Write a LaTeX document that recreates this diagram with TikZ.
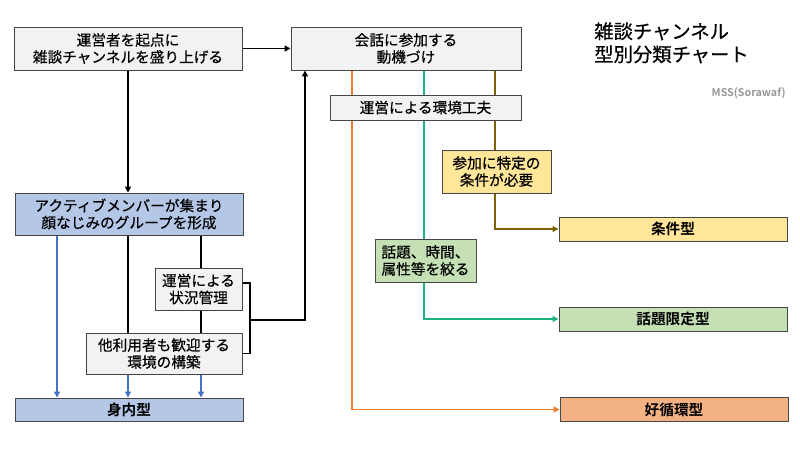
\documentclass[tikz,border=0pt]{standalone}
\usepackage{fontspec}
\setmainfont{Noto Sans CJK JP}[FakeBold=0.5, BoldFont={Noto Sans CJK JP Bold}, BoldFeatures={FakeBold=0}]
\usetikzlibrary{arrows.meta}
\pgfdeclarelayer{background}
\pgfsetlayers{background,main}
\definecolor{boxgray}{RGB}{242,242,242}
\definecolor{boxblue}{RGB}{180,199,231}
\definecolor{boxyellow}{RGB}{255,230,153}
\definecolor{boxgreen}{RGB}{197,224,180}
\definecolor{boxorange}{RGB}{244,177,131}
\definecolor{lineblue}{RGB}{68,114,196}
\definecolor{lineorange}{RGB}{237,125,49}
\definecolor{linegreen}{RGB}{29,180,130}
\definecolor{linebrown}{RGB}{127,96,0}
\definecolor{edgegray}{RGB}{70,70,70}
\begin{document}
\begin{tikzpicture}[x=0.75pt,y=-0.75pt,
  box/.style={draw=edgegray, line width=0.7pt, inner sep=0pt, align=center,
    font=\fontsize{11}{12.75}\selectfont},
  res/.style={box, font=\fontsize{11}{12.75}\selectfont\bfseries},
  wh/.style 2 args={minimum width=#1*0.75pt, minimum height=#2*0.75pt},
  conn/.style={line width=1.4pt},
  arr/.style={conn, -{Triangle[length=4.5pt,width=4.5pt]}}
]
\useasboundingbox (0,0) rectangle (800,449);

% nodes
\node[box, fill=boxgray, wh={228}{43}] (A) at (128,48.5) {運営者を起点に\\雑談チャンネルを盛り上げる};
\node[box, fill=boxgray, wh={230}{43}] (B) at (406,48.5) {会話に参加する\\動機づけ};
\node[box, fill=boxgray, wh={191}{25}] (C) at (425.5,107.5) {運営による環境工夫};
\node[box, fill=boxblue, wh={228}{42}] (D) at (129,214) {アクティブメンバーが集まり\\顔なじみのグループを形成};
\node[box, fill=boxgray, wh={87}{42}] (E) at (198.5,289) {運営による\\状況管理};
\node[box, fill=boxgray, wh={156}{41}] (F) at (164,353.5) {他利用者も歓迎する\\環境の構築};
\node[res, fill=boxblue, wh={228}{23}] (G) at (129,409.5) {身内型};
\node[box, fill=boxyellow, wh={109}{43}] (H) at (496.5,171.5) {参加に特定の\\条件が必要};
\node[res, fill=boxyellow, wh={228}{24}] (I) at (673,229) {条件型};
\node[box, fill=boxgreen, wh={101}{43}] (J) at (425.5,260.5) {話題、時間、\\属性等を絞る};
\node[res, fill=boxgreen, wh={228}{24}] (K) at (673,319) {話題限定型};
\node[res, fill=boxorange, wh={228}{24}] (L) at (674,409.5) {好循環型};

\node[anchor=north west, align=left, inner sep=0pt,
  font=\fontsize{14.5}{17.25}\selectfont] (T) at (594,22) {雑談チャンネル\\型別分類チャート};
\node[anchor=east, inner sep=0pt, text=black!40,
  font=\fontsize{8}{9}\selectfont\bfseries] (M) at (786,93) {MSS(Sorawaf)};

% helper coordinates
\coordinate (xb1) at (57,0);
\coordinate (xm) at (128,0);
\coordinate (xr) at (201,0);
\coordinate (br) at (250,320);
\coordinate (xup) at (305,0);
\coordinate (xo) at (352,0);
\coordinate (xg) at (424,0);
\coordinate (xy) at (495,0);

\begin{pgfonlayer}{background}
\fill[white] (0,0) rectangle (800,449);
% left side
\draw[arr] (A.east) -- (B.west);
\draw[arr] (A.south -| xm) -- (D.north -| xm);
\draw[arr, draw=lineblue] (D.south -| xb1) -- (G.north -| xb1);
\draw[conn] (D.south -| xm) -- (F.north -| xm);
\draw[conn] (D.south -| xr) -- (E.north -| xr);
\draw[conn] (E.south -| xr) -- (F.north -| xr);
\draw[arr, draw=lineblue] (F.south -| xm) -- (G.north -| xm);
\draw[arr, draw=lineblue] (F.south -| xr) -- (G.north -| xr);
\draw[conn] ([yshift=4.5pt]E.east) -| (br) |- (F.east);
\draw[arr] (br) -| (B.south -| xup);
% right side
\draw[arr, draw=lineorange] (B.south -| xo) |- (L.west);
\draw[conn, draw=linegreen] (B.south -| xg) -- (J.north -| xg);
\draw[arr, draw=linegreen] (J.south -| xg) |- (K.west);
\draw[conn, draw=linebrown] (B.south -| xy) -- (H.north -| xy);
\draw[arr, draw=linebrown] (H.south -| xy) |- (I.west);
\end{pgfonlayer}
\end{tikzpicture}
\end{document}
